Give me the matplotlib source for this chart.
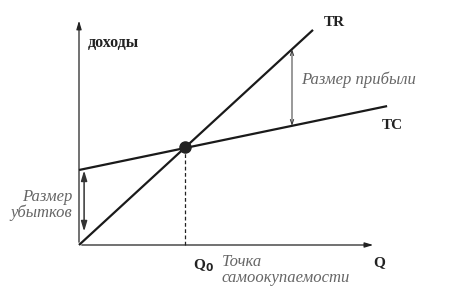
import numpy as np
import matplotlib
matplotlib.use("Agg")
import matplotlib.pyplot as plt

# Data (units: Q on x, доходы on y)
q_tr = [0.0, 7.8]
tr = [0.0, 7.17]
q_tc = [0.0, 10.27]
tc = [2.5, 4.63]
q0 = 3.55
q_profit = 7.1
q_loss = 0.17
x_axis_end = 9.9
y_axis_end = 7.57

fig = plt.figure(figsize=(4.51, 3.0), dpi=100)
ax = fig.add_axes([0, 0, 1, 1])
ax.set_xlim(-79 / 30, 372 / 30)
ax.set_ylim(-55 / 30, 245 / 30)
ax.axis("off")

axc = "#222222"
# axes with arrows
ax.annotate("", xy=(0, y_axis_end), xytext=(0, 0),
            arrowprops=dict(arrowstyle="-|>,head_length=0.5,head_width=0.15", color=axc, lw=0.9))
ax.annotate("", xy=(x_axis_end, 0), xytext=(0, 0),
            arrowprops=dict(arrowstyle="-|>,head_length=0.5,head_width=0.15", color=axc, lw=0.9))

# lines
ax.plot(q_tr, tr, color="#1a1a1a", lw=1.6, solid_capstyle="butt")
ax.plot(q_tc, tc, color="#1a1a1a", lw=1.6, solid_capstyle="butt")

y0 = np.interp(q0, q_tr, tr)
ax.plot([q0, q0], [0, y0], color="#222222", lw=0.9, ls=(0, (3, 2)))
ax.plot([q0], [y0], "o", color="#222222", ms=8)

# profit arrow
yp_top = np.interp(q_profit, q_tr, tr)
yp_bot = np.interp(q_profit, q_tc, tc)
ax.annotate("", xy=(q_profit, yp_top), xytext=(q_profit, yp_bot),
            arrowprops=dict(arrowstyle="<->,head_length=0.35,head_width=0.12", color="#333333", lw=0.7,
                            shrinkA=0, shrinkB=0))

# loss arrow
yl_top = np.interp(q_loss, q_tc, tc) - 0.05
ax.annotate("", xy=(q_loss, yl_top), xytext=(q_loss, 0.45),
            arrowprops=dict(arrowstyle="<|-|>,head_length=0.6,head_width=0.18", color="#333333", lw=1.1,
                            shrinkA=0, shrinkB=0))

serif = ["Liberation Serif", "DejaVu Serif"]
gray = "#666666"
ax.text(0.3, 6.75, "доходы", family=serif, fontweight="bold", fontsize=11.5, color="#222222", va="center")
ax.text(8.15, 7.4, "TR", family=serif, fontweight="bold", fontsize=11, color="#222222", va="center")
ax.text(10.1, 3.97, "TC", family=serif, fontweight="bold", fontsize=11, color="#222222", va="center")
ax.text(9.8, -0.6, "Q", family=serif, fontweight="bold", fontsize=11, color="#222222", va="center")
ax.text(3.8, -0.68, r"Q$_\mathbf{0}$", family=serif, fontweight="bold", fontsize=11, color="#222222", va="center")
ax.text(7.4, 5.5, "Размер прибыли", family=serif, style="italic", fontsize=12, color=gray, va="center")
ax.text(4.75, -0.55, "Точка", family=serif, style="italic", fontsize=12, color=gray, va="center")
ax.text(4.75, -1.1, "самоокупаемости", family=serif, style="italic", fontsize=12, color=gray, va="center")
ax.text(-0.23, 1.6, "Размер", family=serif, style="italic", fontsize=12, color=gray, va="center", ha="right")
ax.text(-0.23, 1.08, "убытков", family=serif, style="italic", fontsize=12, color=gray, va="center", ha="right")

fig.savefig("out.png", dpi=100)
